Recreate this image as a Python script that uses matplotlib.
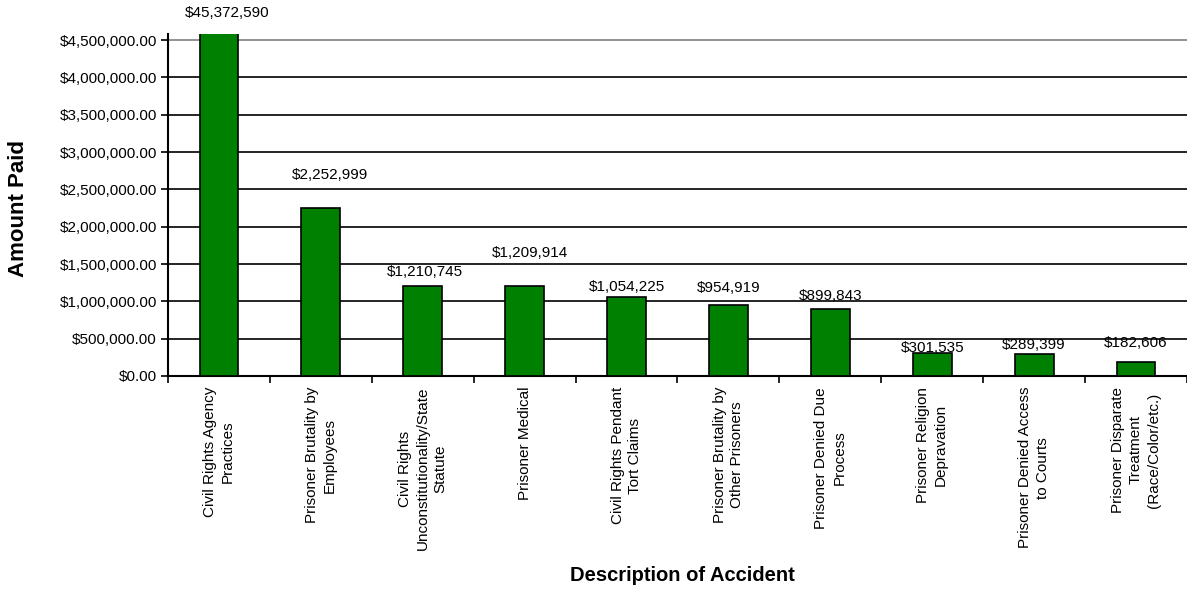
import numpy as np
import matplotlib.pyplot as plt
from matplotlib.ticker import FuncFormatter

plt.rcParams['font.family'] = ['Liberation Sans', 'DejaVu Sans']

# claim categories and amounts paid
categories = [
    'Civil Rights Agency\nPractices',
    'Prisoner Brutality by\nEmployees',
    'Civil Rights\nUnconstitutionality/State\nStatute',
    'Prisoner Medical',
    'Civil Rights Pendant\nTort Claims',
    'Prisoner Brutality by\nOther Prisoners',
    'Prisoner Denied Due\nProcess',
    'Prisoner Religion\nDepravation',
    'Prisoner Denied Access\nto Courts',
    'Prisoner Disparate\nTreatment\n(Race/Color/etc.)',
]
amounts = [45372590, 2252999, 1210745, 1209914, 1054225,
           954919, 899843, 301535, 289399, 182606]

# offsets (pixels) of each value label from its bar top
label_dx = [8, 9, 2, 5, 0, 0, 0, 0, 0, 0]
label_dy = [21, 33, 14, 33, 10, 17, 13, 5, 9, 19]

y_max = 4500000
y_top = 4585000

fig = plt.figure(figsize=(11.87, 5.93), dpi=100)
ax = fig.add_axes([0.1415, 0.366, 0.8585, 0.577])

x = np.arange(len(categories))
ax.bar(x, amounts, width=0.38, color='#008000', edgecolor='black',
       linewidth=1.2, zorder=3)

ax.set_xlim(-0.5, len(categories) - 0.5)
ax.set_ylim(0, y_top)

# gridlines, the top one in grey
yticks = np.arange(0, y_max + 1, 500000)
for yv in yticks[1:]:
    ax.axhline(yv, color='#808080' if yv == y_max else 'black',
               linewidth=1.2, zorder=1)

ax.set_yticks(yticks)
ax.yaxis.set_major_formatter(FuncFormatter(lambda v, p: '${:,.2f}'.format(v)))
ax.tick_params(axis='y', labelsize=11, length=5, width=1.2, pad=3)

# x ticks sit between the categories
ax.set_xticks(np.arange(-0.5, len(categories) + 0.5, 1))
ax.set_xticklabels([])
ax.tick_params(axis='x', length=5, width=1.2)
for i, name in enumerate(categories):
    ax.annotate(name, xy=(i, 0), xycoords=('data', 'axes fraction'),
                xytext=(0, -11), textcoords='offset pixels',
                rotation=90, ha='center', va='top', multialignment='center',
                linespacing=1.35, fontsize=11)

for spine in ['top', 'right']:
    ax.spines[spine].set_visible(False)
ax.spines['left'].set_linewidth(1.5)
ax.spines['bottom'].set_linewidth(1.5)

# value labels
for i, val in enumerate(amounts):
    ax.annotate('${:,}'.format(val), xy=(i, min(val, y_top)),
                xytext=(label_dx[i], label_dy[i]), textcoords='offset pixels',
                ha='center', va='center', fontsize=11, annotation_clip=False)

fig.text(0.0160, 0.648, 'Amount Paid', rotation=90, ha='center', va='center',
         fontsize=16, fontweight='bold')
fig.text(0.575, 0.030, 'Description of Accident', ha='center', va='center',
         fontsize=14.5, fontweight='bold')

fig.savefig('out.png', dpi=100)
